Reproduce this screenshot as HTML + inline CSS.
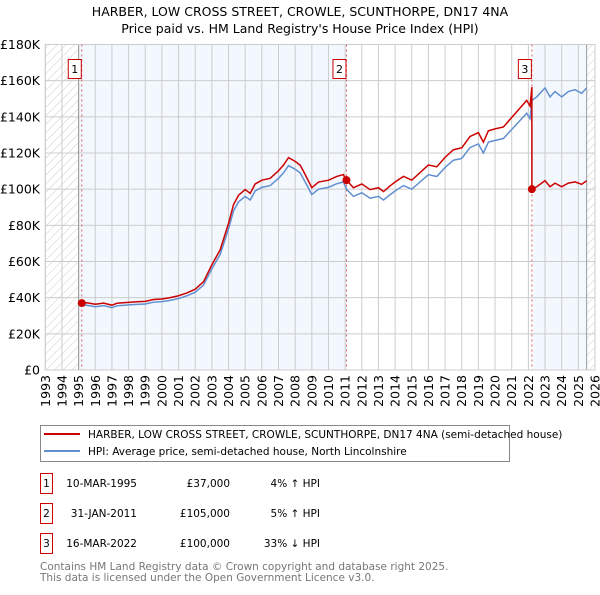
<!DOCTYPE html>
<html><head><meta charset="utf-8"><style>
body{margin:0;background:#fff;font-family:"Liberation Sans","DejaVu Sans",sans-serif}
svg text{font-family:"DejaVu Sans","Liberation Sans",sans-serif}
</style></head><body>
<svg id="chart" width="600" height="590" viewBox="0 0 600 590">
<defs><pattern id="hatch" width="6" height="6" patternUnits="userSpaceOnUse" patternTransform="rotate(45)"><line x1="0" y1="0" x2="0" y2="6" stroke="#ccc" stroke-width="1"/></pattern></defs>
<text x="300" y="16" text-anchor="middle" font-size="12.5">HARBER, LOW CROSS STREET, CROWLE, SCUNTHORPE, DN17 4NA</text>
<text x="300" y="33" text-anchor="middle" font-size="12.5">Price paid vs. HM Land Registry's House Price Index (HPI)</text>
<g id="plot"></g>
<g>
<rect x="40.5" y="425.5" width="469" height="36" fill="#fff" stroke="#888"/>
<line x1="44" y1="434" x2="80" y2="434" stroke="#cc0000" stroke-width="2"/>
<text x="88" y="438" font-size="10.5">HARBER, LOW CROSS STREET, CROWLE, SCUNTHORPE, DN17 4NA (semi-detached house)</text>
<line x1="44" y1="451" x2="80" y2="451" stroke="#6090d0" stroke-width="2"/>
<text x="88" y="455" font-size="10.5">HPI: Average price, semi-detached house, North Lincolnshire</text>
</g>
<g id="table" font-size="10.5"></g>
<text x="40" y="570" font-size="10.5" fill="#777">Contains HM Land Registry data © Crown copyright and database right 2025.</text>
<text x="40" y="581" font-size="10.5" fill="#777">This data is licensed under the Open Government Licence v3.0.</text>
</svg>
<script>
const hpiYears=[1995.19,1995.5,1996,1996.5,1997,1997.3,1998,1998.5,1999,1999.5,2000,2000.5,2001,2001.5,2002,2002.5,2003,2003.5,2004,2004.3,2004.6,2005,2005.3,2005.6,2006,2006.5,2007,2007.3,2007.6,2008,2008.3,2008.6,2009,2009.4,2010,2010.5,2010.9,2011.08,2011.5,2012,2012.5,2013,2013.3,2013.7,2014,2014.5,2015,2015.5,2016,2016.5,2017,2017.5,2018,2018.5,2019,2019.3,2019.6,2020,2020.5,2021,2021.5,2021.9,2022.1,2022.21,2022.5,2023,2023.3,2023.6,2024,2024.4,2024.8,2025.2,2025.5];
const hpiValues=[35.6,35.8,35,35.6,34.5,35.5,36,36.3,36.5,37.5,37.8,38.5,39.5,41,43,47,56,64,78,88,93,96,94,99,101,102,106,109,113,111,109,104,97,100,101,103,104,100,96,98,95,96,94,97,99,102,100,104,108,107,112,116,117,123,125,120,126,127,128,133,138,142,139,149,151,156,151,154,151,154,155,153,156];
const saleYears=[1995.19,2011.08,2022.21];
const salePrices=[37,105,100];
const saleDates=["10-MAR-1995","31-JAN-2011","16-MAR-2022"];
const salePriceLabels=["£37,000","£105,000","£100,000"];
const saleHpiLabels=["4% ↑ HPI","5% ↑ HPI","33% ↓ HPI"];
const yTicks=[0,20,40,60,80,100,120,140,160,180];
const xTicks=[1993,1994,1995,1996,1997,1998,1999,2000,2001,2002,2003,2004,2005,2006,2007,2008,2009,2010,2011,2012,2013,2014,2015,2016,2017,2018,2019,2020,2021,2022,2023,2024,2025,2026];
const X0=45.3,X1=595,Y0=370,Y1=44.5;
const xs=y=>X0+(y-1993)/(2026-1993)*(X1-X0);
const ys=v=>Y0-v/180*(Y0-Y1);
const NS="http://www.w3.org/2000/svg";
const plot=document.getElementById('plot');
function mk(t,a,p){const e=document.createElementNS(NS,t);for(const k in a)e.setAttribute(k,a[k]);(p||plot).appendChild(e);return e;}
let bg=mk('rect',{x:X0,y:Y1,width:X1-X0,height:Y0-Y1,fill:'#fff'});


let s1=mk('rect',{x:xs(1995),y:Y1,width:xs(saleYears[1])-xs(1995),height:Y0-Y1,fill:'#f3f7fe'});


let s2=mk('rect',{x:xs(saleYears[2]),y:Y1,width:xs(2025.5)-xs(saleYears[2]),height:Y0-Y1,fill:'#f3f7fe'});


let h1=mk('rect',{x:X0,y:Y1,width:xs(1995)-X0,height:Y0-Y1,fill:'url(#hatch)'});


let h2=mk('rect',{x:xs(2025.5),y:Y1,width:X1-xs(2025.5),height:Y0-Y1,fill:'url(#hatch)'});


yTicks.forEach(v=>{let l=mk('line',{x1:X0,x2:X1,y1:ys(v),y2:ys(v),stroke:'#ccc'});


let t=mk('text',{x:40,y:ys(v)+4.5,'text-anchor':'end','font-size':12.5});t.textContent='£'+(v?v+'K':'0');

});
xTicks.forEach(y=>{let l=mk('line',{x1:xs(y),x2:xs(y),y1:Y1,y2:Y0,stroke:'#ccc'});


const tx=xs(y)+4.5,ty=375;
let t=mk('text',{x:tx,y:ty,'text-anchor':'end','font-size':12.5,transform:'rotate(-90 '+tx+' '+ty+')'});t.textContent=y;

});
mk('line',{x1:xs(1995),x2:xs(1995),y1:Y1,y2:Y0,stroke:'#999'});
mk('line',{x1:xs(2025.5),x2:xs(2025.5),y1:Y1,y2:Y0,stroke:'#999'});
let fr=mk('rect',{x:X0,y:Y1,width:X1-X0,height:Y0-Y1,fill:'none',stroke:'#ccc'});


saleYears.forEach((s,i)=>{let l=mk('line',{x1:xs(s),x2:xs(s),y1:Y1,y2:Y0,stroke:'#e06060','stroke-dasharray':'2,3'});


let r=mk('rect',{x:xs(s)-13.5,y:59.5,width:13,height:19,fill:'#fff',stroke:'#cc0000'});


let t=mk('text',{x:xs(s)-7,y:73,'text-anchor':'middle','font-size':11});t.textContent=i+1;});
let hp=mk('polyline',{points:hpiYears.map((y,i)=>xs(y)+','+ys(hpiValues[i])).join(' '),fill:'none',stroke:'#6090d0','stroke-width':1.5});


function hpiAt(t){for(let i=0;i<hpiYears.length-1;i++){if(t<=hpiYears[i+1]){const f=(t-hpiYears[i])/(hpiYears[i+1]-hpiYears[i]);return hpiValues[i]+f*(hpiValues[i+1]-hpiValues[i]);}}return hpiValues[hpiValues.length-1];}
let pts=[];
hpiYears.forEach((y,i)=>{let k=0;for(let j=0;j<saleYears.length;j++)if(y>=saleYears[j])k=j;
if(k>0&&pts.length&&hpiYears[i-1]<saleYears[k]){const sv=salePrices[k-1]*hpiAt(saleYears[k])/hpiAt(saleYears[k-1]);pts.push([saleYears[k],sv]);pts.push([saleYears[k],salePrices[k]]);}
pts.push([y,salePrices[k]*hpiValues[i]/hpiAt(saleYears[k])]);});
let rl=mk('polyline',{points:pts.map(p=>xs(p[0])+','+ys(p[1])).join(' '),fill:'none',stroke:'#cc0000','stroke-width':1.5});


saleYears.forEach((s,i)=>{let c=mk('circle',{cx:xs(s),cy:ys(salePrices[i]),r:4,fill:'#cc0000'});

});
const tb=document.getElementById('table');
saleYears.forEach((s,i)=>{const cy=483+i*30;
let r=mk('rect',{x:40.5,y:cy-9.5,width:12,height:20,fill:'#fff',stroke:'#cc0000'},tb);


let a=mk('text',{x:46.5,y:cy+4,'text-anchor':'middle'},tb);a.textContent=i+1;
let d=mk('text',{x:137,y:cy+4,'text-anchor':'end'},tb);d.textContent=saleDates[i];


let p=mk('text',{x:230,y:cy+4,'text-anchor':'end'},tb);p.textContent=salePriceLabels[i];


let h=mk('text',{x:320,y:cy+4,'text-anchor':'end'},tb);h.textContent=saleHpiLabels[i];

});
</script>
</body></html>
